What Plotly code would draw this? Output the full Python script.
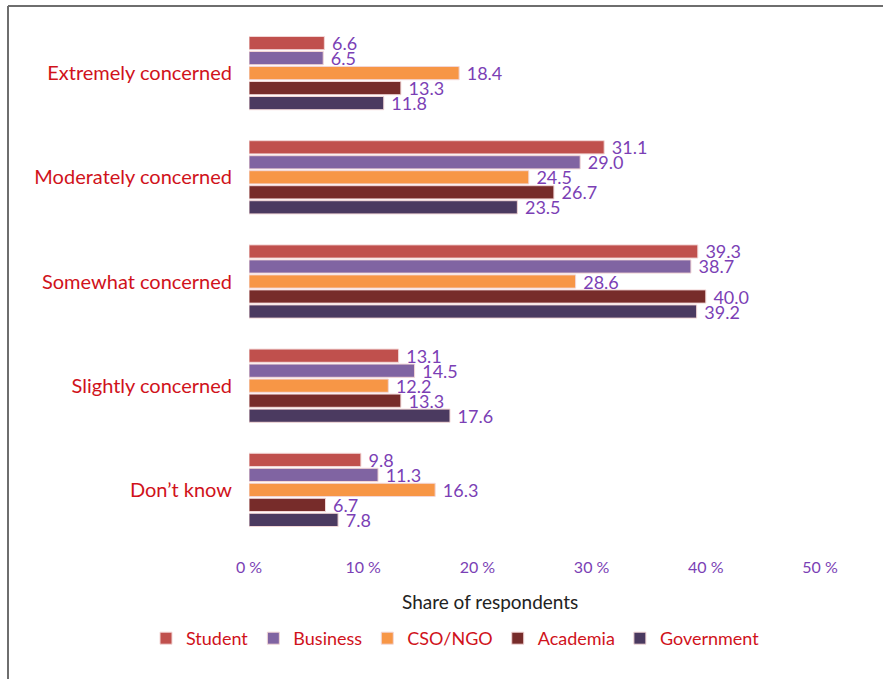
import plotly.graph_objects as go

categories = ["Extremely concerned", "Moderately concerned", "Somewhat concerned",
              "Slightly concerned", "Don\u2019t know"]
student = [6.6, 31.1, 39.3, 13.1, 9.8]
business = [6.5, 29.0, 38.7, 14.5, 11.3]
cso_ngo = [18.4, 24.5, 28.6, 12.2, 16.3]
academia = [13.3, 26.7, 40.0, 13.3, 6.7]
government = [11.8, 23.5, 39.2, 17.6, 7.8]
x_ticks = [0, 10, 20, 30, 40, 50]
x_tick_text = ["0 %", "10 %", "20 %", "30 %", "40 %", "50 %"]

series = [
    ("Student", student, "#C0504D"),
    ("Business", business, "#8064A2"),
    ("CSO/NGO", cso_ngo, "#F79646"),
    ("Academia", academia, "#772C2A"),
    ("Government", government, "#4B3A60"),
]

LABEL_PURPLE = "#7B3FB5"
CAT_RED = "#D0121B"

fig = go.Figure()
for name, vals, color in series:
    fig.add_trace(go.Bar(
        name=name, y=categories, x=vals, orientation="h",
        marker=dict(color=color, line=dict(color="#F2D6D6", width=1)),
        text=vals, texttemplate="\u00a0%{x:.1f}", textposition="outside",
        constraintext="none", cliponaxis=False,
        textfont=dict(family="Lato", size=18, color=LABEL_PURPLE),
    ))

W, H = 883, 679
ml, mr, mt, mb = 249, 63, 21, 137
pw, ph = W - ml - mr, H - mt - mb

fig.update_layout(
    width=W, height=H,
    margin=dict(l=ml, r=mr, t=mt, b=mb, autoexpand=False),
    paper_bgcolor="white", plot_bgcolor="white",
    barmode="group", bargap=0.28, bargroupgap=0.12,
    showlegend=True,
    legend=dict(orientation="h", x=(146 - ml) / pw, xanchor="left",
                y=-(620 - mt - ph) / ph, yanchor="top",
                font=dict(family="Lato", size=18, color=CAT_RED),
                itemwidth=30, tracegroupgap=0),
    xaxis=dict(range=[0, 50], tickvals=x_ticks, ticktext=x_tick_text,
               showgrid=False, zeroline=False, showline=False, ticks="",
               ticklabelstandoff=14, automargin=False,
               tickfont=dict(family="Lato", size=16, color=LABEL_PURPLE)),
    yaxis=dict(autorange="reversed", showgrid=False, zeroline=False, showline=False,
               ticks="", ticklabelstandoff=16, automargin=False,
               tickfont=dict(family="Lato", size=20, color=CAT_RED)),
    annotations=[
        dict(text="Share of respondents", xref="paper", yref="paper",
             x=(490 - ml) / pw, y=-(601 - mt - ph) / ph, xanchor="center", yanchor="middle",
             showarrow=False, font=dict(family="Lato", size=19, color="#222222")),
    ],
    shapes=[
        dict(type="line", xref="paper", yref="paper",
             x0=(8 - ml) / pw, x1=(8 - ml) / pw, y0=1 + (mt - 6) / ph, y1=-(H - mt - ph + 10) / ph,
             line=dict(color="#6E6E6E", width=2)),
        dict(type="line", xref="paper", yref="paper",
             x0=(8 - ml) / pw, x1=(W + 10 - ml) / pw, y0=1 + (mt - 6) / ph, y1=1 + (mt - 6) / ph,
             line=dict(color="#6E6E6E", width=2)),
    ],
)

fig.write_html("out.html")
